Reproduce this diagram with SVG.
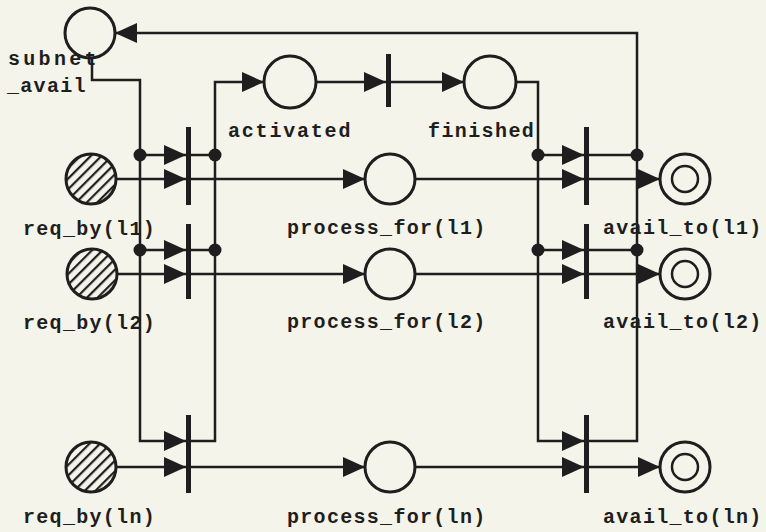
<svg xmlns="http://www.w3.org/2000/svg" width="766" height="532" viewBox="0 0 766 532">
<defs>
<style>
.bg{fill:#f4f4ea}
.pl{fill:none;stroke:#1e1e1e;stroke-width:3}
.hp{fill:url(#hatch);stroke:#1e1e1e;stroke-width:3}
.in{fill:none;stroke:#1e1e1e;stroke-width:2.5}
.tr{fill:#1e1e1e}
.dot{fill:#1e1e1e}
.c{fill:none;stroke:#1e1e1e;stroke-width:2.5}
.a{fill:none;stroke:#1e1e1e;stroke-width:2.5;marker-end:url(#ah)}
.t{font-family:"Liberation Mono","DejaVu Sans Mono",monospace;font-weight:bold;font-size:20px;fill:#1e1e1e;letter-spacing:1.3px}
</style>
<marker id="ah" markerUnits="userSpaceOnUse" markerWidth="22" markerHeight="20" refX="22" refY="10" orient="auto">
<path d="M0,0 L22,10 L0,20 z" fill="#1e1e1e"/>
</marker>
<pattern id="hatch" patternUnits="userSpaceOnUse" width="7.5" height="7.5" patternTransform="rotate(45)">
<rect width="7.5" height="7.5" fill="#f4f4ea"/>
<line x1="2" y1="0" x2="2" y2="7.5" stroke="#1e1e1e" stroke-width="2.2"/>
</pattern>
</defs>
<rect class="bg" width="766" height="532"/>

<g id="connectors">
<path class="a" d="M92,58 V80 H140 V441 H186"/>
<path class="a" d="M140,155 H186"/>
<path class="a" d="M140,250 H186"/>
<path class="a" d="M191,441 H215 V82 H264"/>
<path class="c" d="M191,155 H215"/>
<path class="c" d="M191,250 H215"/>
<path class="a" d="M116,179 H186"/>
<path class="a" d="M117,274 H186"/>
<path class="a" d="M116,467 H186"/>
<path class="a" d="M191,179 H365"/>
<path class="a" d="M191,274 H365"/>
<path class="a" d="M191,467 H365"/>
<path class="a" d="M316,82 H386"/>
<path class="a" d="M391,82 H464"/>
<path class="a" d="M516,82 H538 V441 H584"/>
<path class="a" d="M538,155 H584"/>
<path class="a" d="M538,250 H584"/>
<path class="a" d="M589,441 H637 V33 H115"/>
<path class="c" d="M589,155 H637"/>
<path class="c" d="M589,250 H637"/>
<path class="a" d="M415,179 H584"/>
<path class="a" d="M415,274 H584"/>
<path class="a" d="M415,467 H584"/>
<path class="a" d="M589,179 H660"/>
<path class="a" d="M589,274 H660"/>
<path class="a" d="M589,467 H660"/>
<circle class="dot" cx="140" cy="155" r="6.5"/>
<circle class="dot" cx="140" cy="250" r="6.5"/>
<circle class="dot" cx="215" cy="155" r="6.5"/>
<circle class="dot" cx="215" cy="250" r="6.5"/>
<circle class="dot" cx="538" cy="155" r="6.5"/>
<circle class="dot" cx="538" cy="250" r="6.5"/>
<circle class="dot" cx="637" cy="155" r="6.5"/>
<circle class="dot" cx="637" cy="250" r="6.5"/>
</g>

<g id="subnet_avail">
<circle class="pl" cx="90" cy="33" r="25"/>
<text class="t" x="8" y="65" style="letter-spacing:3.3px">subnet</text>
<text class="t" x="7" y="92">_avail</text>
</g>
<g id="activated">
<circle class="pl" cx="290" cy="82" r="26"/>
<text class="t" x="228" y="137" style="letter-spacing:1.8px">activated</text>
</g>
<g id="t_run">
<rect class="tr" x="386" y="54" width="5" height="53"/>
</g>
<g id="finished">
<circle class="pl" cx="490" cy="82" r="26"/>
<text class="t" x="428" y="137" style="letter-spacing:1.4px">finished</text>
</g>

<g id="req_by_l1">
<circle class="hp" cx="91" cy="179" r="25"/>
<text class="t" x="23" y="235">req_by(l1)</text>
</g>
<g id="req_by_l2">
<circle class="hp" cx="92" cy="274" r="25"/>
<text class="t" x="23" y="329">req_by(l2)</text>
</g>
<g id="req_by_ln">
<circle class="hp" cx="91" cy="467" r="25"/>
<text class="t" x="23" y="523">req_by(ln)</text>
</g>

<g id="t_start_l1"><rect class="tr" x="186" y="127" width="5" height="78"/></g>
<g id="t_start_l2"><rect class="tr" x="186" y="224" width="5" height="75"/></g>
<g id="t_start_ln"><rect class="tr" x="186" y="415" width="5" height="78"/></g>

<g id="process_for_l1">
<circle class="pl" cx="390" cy="179" r="25"/>
<text class="t" x="287" y="234">process_for(l1)</text>
</g>
<g id="process_for_l2">
<circle class="pl" cx="390" cy="274" r="25"/>
<text class="t" x="287" y="328">process_for(l2)</text>
</g>
<g id="process_for_ln">
<circle class="pl" cx="390" cy="467" r="25"/>
<text class="t" x="287" y="523">process_for(ln)</text>
</g>

<g id="t_end_l1"><rect class="tr" x="584" y="127" width="5" height="78"/></g>
<g id="t_end_l2"><rect class="tr" x="584" y="224" width="5" height="75"/></g>
<g id="t_end_ln"><rect class="tr" x="584" y="415" width="5" height="78"/></g>

<g id="avail_to_l1">
<circle class="pl" cx="685" cy="179" r="25"/>
<circle class="in" cx="685" cy="179" r="13"/>
<text class="t" x="603" y="234">avail_to(l1)</text>
</g>
<g id="avail_to_l2">
<circle class="pl" cx="685" cy="274" r="25"/>
<circle class="in" cx="685" cy="274" r="13"/>
<text class="t" x="603" y="328">avail_to(l2)</text>
</g>
<g id="avail_to_ln">
<circle class="pl" cx="685" cy="467" r="25"/>
<circle class="in" cx="685" cy="467" r="13"/>
<text class="t" x="603" y="523">avail_to(ln)</text>
</g>
</svg>
